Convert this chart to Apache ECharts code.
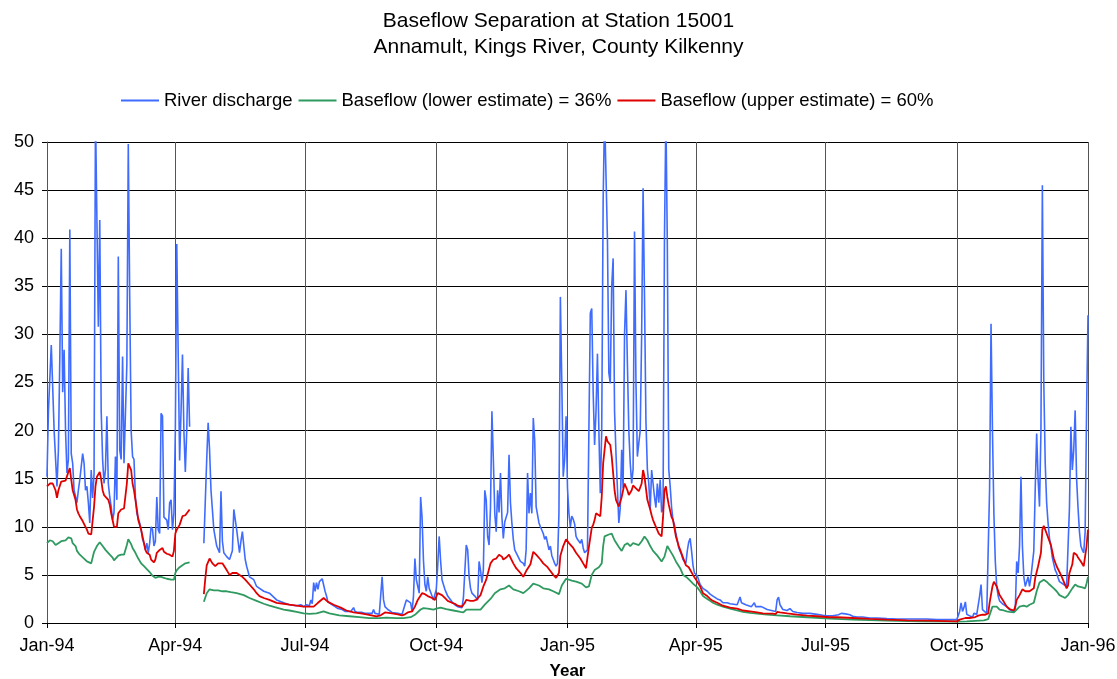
<!DOCTYPE html>
<html><head><meta charset="utf-8">
<script src="https://cdn.jsdelivr.net/npm/echarts@6/dist/echarts.min.js"></script>
<style>html,body{margin:0;padding:0;background:#fff}#c{width:1117px;height:679px}</style>
</head><body><div id="c"></div>
<script>
// Tick marks: day numbers (since 1 Jan 1994) of the first day of each quarter, and their labels
const tickDays = [0, 90, 181, 273, 365, 455, 546, 638, 730];
const tickLabels = ['Jan-94','Apr-94','Jul-94','Oct-94','Jan-95','Apr-95','Jul-95','Oct-95','Jan-96'];
const seriesNames = ['River discharge','Baseflow (lower estimate) = 36%','Baseflow (upper estimate) = 60%'];

// River discharge: day number since 1 Jan 1994, value (null = missing record)
const qDay = [0,1,3,4,5,7,8,9,10,11,12,13,14,15,16,17,18,19,20,21,22,23,25,26,27,28,29,30,31,32,33,34,35,36,37,38,39,40,41,42,43,44,45,46,47,48,49,50,51,52,53,54,55,56,57,58,59,60,61,62,63,65,66,67,68,69,70,71,72,73,74,75,76,77,78,79,80,81,82,83,84,85,86,87,88,89,90,91,92,93,94,95,96,97,98,99,100,
105,
110,112,113,114,115,117,119,121,122,123,124,126,128,130,131,133,135,136,137,139,140,142,145,147,152,156,161,166,170,175,178,180,182,184,185,186,187,188,189,190,191,193,194,195,196,197,200,202,204,207,209,213,215,216,218,221,223,228,229,230,233,235,236,237,239,242,246,249,250,252,253,255,256,257,258,259,260,261,262,263,264,265,266,267,268,270,271,272,273,274,275,276,277,279,281,284,286,288,291,292,293,294,295,296,297,298,300,302,303,304,305,306,307,308,309,310,311,312,313,314,315,316,317,318,319,320,321,323,324,325,326,327,328,330,332,334,335,336,337,338,339,340,341,342,343,345,346,347,348,349,350,352,353,354,355,356,357,358,359,360,361,362,363,364,365,366,367,368,369,370,371,372,373,374,375,376,377,378,379,380,381,382,383,384,385,386,387,388,389,390,391,392,393,394,395,396,397,398,399,400,401,402,403,404,405,406,407,408,409,410,411,412,413,414,415,416,417,418,419,420,421,422,423,424,425,426,427,428,429,430,431,432,433,434,435,436,437,438,439,440,441,442,443,444,445,446,447,448,449,450,451,452,453,454,456,458,460,463,465,467,470,472,474,477,479,484,485,486,487,490,492,494,496,497,499,501,502,505,508,511,512,513,514,516,519,521,523,526,530,535,540,544,547,551,555,557,560,561,563,565,568,572,577,582,589,596,610,617,624,631,638,639,640,641,642,643,644,645,646,649,650,651,652,653,654,655,656,657,659,660,661,662,663,664,665,666,667,668,670,673,675,678,679,680,681,682,683,684,685,686,687,688,689,690,691,692,693,694,695,696,697,698,699,700,701,702,703,704,705,707,708,709,710,713,715,716,717,718,719,720,721,722,723,724,725,726,727,728,729,730];
const qVal = [15.2,22,28.9,24.5,20,14.2,18,27.7,38.9,24,28.4,20,15.6,17,40.9,17.6,16.6,13.8,14,12.5,13.8,14.9,17.6,16.6,13.8,14.2,12.5,10.4,15.9,13,15.5,53,53,30.8,41.9,22,17,14.5,16,21.5,14.5,13.1,12.1,10.7,11.5,17.3,12.8,38.1,18,17,27.7,16.6,16.6,26.9,49.8,33.9,20,17.3,17,13.1,11.4,10.4,9.7,8.7,8.3,7.6,8.3,7.3,8.3,10,9.7,8,8.5,13.1,9.7,9.3,21.8,21.5,11,11,10.7,9.7,12.5,12.8,9.7,11.4,20,39.4,28,16.9,22,27.9,20,15.7,20,26.5,20.4,
null,
8.3,17,20.8,18,13.8,9.7,8,7.3,13.7,8.5,7.3,6.9,6.6,7.5,11.8,9.7,7.3,8.5,9.5,6.6,5.9,4.8,4.5,3.8,3.3,3.1,2.4,2.1,1.9,1.8,1.9,1.7,1.9,1.8,2.4,2.0,4.2,3.3,4.2,3.5,4.3,4.6,4.8,3.3,2.8,2.2,1.9,1.7,1.5,1.4,1.2,1.2,1.6,1.2,1.1,1.1,1.0,1.0,1.4,1.0,0.9,4.8,2.4,1.7,1.4,1.1,1.0,0.9,1.4,2.4,2.6,2.1,1.2,2.8,6.7,4.5,3.8,3.1,13.1,11,6.5,4.0,3.3,4.8,3.6,2.8,2.4,2.6,3.5,6.0,9.0,6.5,4.5,3.5,2.8,2.2,1.9,1.7,1.6,2.6,2.8,8.1,7.6,4.8,3.6,3.1,2.8,2.4,6.4,5.5,4.2,5.5,13.8,12.8,9.0,8.1,12,22,17,11.4,9.5,13.8,11.5,15.6,11,8.8,10.5,11.5,17.5,12.5,10.4,8.7,7.6,7.0,6.4,6.2,5.9,7.6,15.6,11.4,13.5,11.4,21.3,19,12.1,10.4,10.0,10.2,9.3,8.7,9.0,7.6,8.0,7.0,6.6,6.2,5.9,6.2,11.4,33.9,25,15.2,17,21.5,14,11.4,10,11.1,10.8,10.3,9,8.7,8.6,8.3,8.7,7.8,7.3,7.3,7.6,20,32.2,32.7,24,18.5,22,28,20,13.5,20,44,53,53,40,26,24.9,35,37.9,22,17.6,14,10.4,12,18,14,30,34.6,27,20,16.6,14.5,16,40.7,25,17.3,18.7,20,30,45.2,33.9,21,16,14.5,11.8,15.9,14.5,13.1,12,14.5,12.5,14.9,11.5,12,40,53,39.4,16,14.2,12,10.7,10.2,9.3,8.6,7.8,7.6,7.1,6.6,6.4,6.2,7.5,8.4,8.8,7.5,6.0,5.2,4.9,4.0,3.6,3.3,3.0,2.8,2.5,2.4,2.1,2.1,2.0,1.9,2.1,2.7,2.1,1.9,1.8,1.7,2.1,1.7,1.7,1.7,1.5,1.4,1.3,1.2,2.4,2.7,1.9,1.4,1.3,1.5,1.2,1.1,1.0,1.0,0.9,0.8,0.75,0.76,0.85,1.0,0.95,1.1,0.85,0.7,0.62,0.62,0.52,0.52,0.45,0.42,0.42,0.42,0.35,0.35,0.35,0.4,1.2,2.1,1.2,1.6,2.2,0.9,0.7,0.6,1.0,1.2,0.9,1.0,2.8,4.0,1.4,1.2,1.0,1.2,14,31.1,20,11.4,6.4,3.8,2.8,2.3,2.0,1.7,1.4,1.1,1.4,6.4,5.2,8,15.2,8,4.8,3.8,3.6,4.8,3.8,4.8,5.0,7.5,14,19.7,15,12.1,20,45.5,25,16.6,12.5,10.4,8.8,8,6.8,5.5,5.2,4.7,4.3,4.0,3.8,4.0,12,20.4,15.9,18,22.1,15,12,9.5,8,7.6,7.3,9.5,22,32];

// Baseflow (lower estimate = 36%)
const lowDay = [0,2,4,6,7,8,10,11,13,15,16,17,18,20,21,22,23,24,26,28,29,31,32,33,35,37,38,39,41,42,44,46,47,48,50,52,54,55,56,57,59,60,62,64,66,68,70,72,74,75,76,78,80,82,84,87,89,90,91,93,95,97,100,
105,
110,112,114,117,120,123,126,129,133,138,142,147,152,156,161,166,170,175,180,184,189,194,198,205,212,219,226,233,238,245,250,255,258,262,264,267,271,273,276,280,285,290,292,294,299,304,307,311,314,318,321,324,327,331,334,338,341,345,348,352,355,359,361,364,368,371,375,378,380,382,384,387,389,390,391,394,396,398,401,403,405,407,409,411,412,415,417,419,421,423,425,428,431,433,435,437,439,441,444,446,449,451,453,456,458,460,463,465,467,470,474,479,484,488,493,498,505,512,521,533,549,565,589,612,638,645,657,660,663,664,666,668,671,673,675,678,680,682,685,687,689,692,694,696,699,701,703,706,708,710,714,716,719,721,723,726,728,729,730];
const lowVal = [8.3,8.6,8.5,8.1,8.0,8.3,8.5,8.7,8.6,8.9,9.1,8.8,8.3,8.0,7.5,7.3,7.1,6.9,6.7,6.4,6.2,6.2,6.4,7.4,8.0,8.4,8.2,8.0,7.6,7.5,7.1,6.8,6.5,6.6,7.0,7.1,7.1,7.2,8.1,8.7,8.2,7.8,7.3,6.7,6.2,5.9,5.6,5.3,4.9,4.7,4.7,4.8,4.8,4.7,4.6,4.5,4.5,5.2,5.5,5.8,6.0,6.2,6.3,
null,
2.2,3.1,3.5,3.4,3.4,3.3,3.3,3.2,3.1,2.9,2.6,2.3,2.0,1.8,1.6,1.4,1.3,1.15,1.0,0.95,1.0,1.2,1.0,0.8,0.7,0.6,0.5,0.5,0.55,0.5,0.5,0.6,0.85,1.4,1.55,1.5,1.4,1.5,1.6,1.45,1.3,1.15,1.1,1.4,1.4,1.4,1.9,2.5,3.1,3.5,3.6,3.9,3.5,3.3,3.1,3.6,4.1,3.9,3.6,3.5,3.3,3.0,3.9,4.6,4.4,4.3,4.1,3.7,3.8,5.0,5.5,5.8,6.2,8.0,9.0,9.2,9.3,8.6,7.9,7.5,8.1,8.3,8.0,8.3,8.3,8.1,8.5,9.0,8.6,8.0,7.5,7.0,6.4,6.9,8.0,7.5,7.0,6.4,5.7,5.0,4.7,4.4,4.1,3.7,3.3,2.8,2.5,2.3,2.1,1.9,1.7,1.5,1.3,1.15,1.05,0.98,0.87,0.8,0.7,0.6,0.45,0.35,0.25,0.18,0.14,0.17,0.28,0.4,1.7,1.9,1.7,1.4,1.3,1.2,1.15,1.1,1.4,1.7,1.8,1.7,1.9,2.1,3.3,4.2,4.5,4.3,4.0,3.6,3.3,2.9,2.6,2.9,3.6,4.0,3.8,3.7,3.6,4.1,4.8];

// Baseflow (upper estimate = 60%)
const upDay = [0,2,4,6,7,8,10,11,13,14,15,16,17,18,20,21,22,23,24,25,27,28,29,31,32,33,34,35,37,38,39,40,41,43,44,45,46,47,48,49,50,52,54,55,56,57,59,60,61,62,63,64,66,67,68,69,70,72,73,74,75,76,77,79,80,81,82,84,86,88,89,90,91,93,95,97,98,100,
105,
110,111,112,114,116,118,120,121,123,126,128,130,133,135,137,139,140,142,145,147,149,152,156,161,166,170,175,180,182,187,190,194,197,201,206,210,215,220,224,231,234,235,237,242,246,249,251,253,256,258,260,263,265,267,270,272,274,277,279,281,284,286,288,291,293,294,297,299,301,304,306,308,311,313,315,317,319,320,322,324,325,327,329,332,334,336,339,341,343,346,348,351,353,355,357,359,360,362,364,366,369,371,374,376,378,379,380,382,383,384,385,386,388,389,390,391,392,393,395,396,397,398,399,401,402,403,404,405,406,407,408,409,410,411,412,413,414,415,417,418,419,420,421,423,424,425,427,429,431,432,433,434,435,436,438,439,441,443,444,446,448,450,451,453,456,458,460,463,465,467,470,474,479,484,488,493,498,502,509,511,512,514,519,526,533,540,549,554,565,577,589,603,617,631,638,640,644,647,651,653,656,658,660,661,663,664,665,666,668,671,673,675,678,679,680,681,682,684,685,686,687,689,692,693,695,697,698,699,701,704,706,708,711,713,715,716,717,719,720,722,723,725,727,728,729,730];
const upVal = [14.2,14.5,14.5,13.8,13.0,13.8,14.7,14.9,14.8,14.9,15.7,16.1,14.9,13.8,12.8,11.8,11.4,11.1,11.0,10.6,10.0,9.7,9.3,9.2,9.3,12.1,14.2,15.2,15.7,14.9,13.8,13.3,13.1,12.8,12.3,11.4,10.7,10.0,9.9,10.0,11.4,11.8,11.9,12.1,14.5,16.6,15.9,14.5,13.8,12.8,11.8,10.7,9.7,9.0,8.3,7.6,7.3,7.1,6.6,6.4,6.3,6.6,7.3,7.6,7.5,7.8,7.4,7.2,7.1,6.9,7.5,9.3,9.7,10.2,11.1,11.2,11.4,11.8,
null,
3.0,4.6,6.0,6.7,6.2,5.9,6.2,6.1,6.2,5.5,5.0,5.2,5.2,5.0,4.8,4.5,4.3,4.0,3.5,3.1,2.8,2.6,2.4,2.1,2.0,1.9,1.8,1.7,1.7,1.7,2.1,2.6,2.2,1.9,1.6,1.3,1.1,1.0,0.9,0.7,0.8,1.0,1.1,1.0,0.9,0.8,0.9,1.1,1.2,1.7,2.4,3.1,3.0,2.8,2.6,2.4,3.1,2.9,2.6,2.3,2.1,2.0,1.8,1.7,2.1,2.4,2.3,2.3,2.4,2.9,3.8,4.5,6.2,6.6,6.7,7.1,6.9,6.6,6.8,7.1,6.8,6.2,5.7,5.2,4.8,5.4,6.1,7.4,7.1,6.6,6.2,5.8,5.4,5.0,4.7,5.2,7.0,8.0,8.7,8.3,7.8,7.3,6.7,6.2,5.7,5.8,7.9,9.9,10.2,10.7,11.4,11.2,11.1,13.1,16.6,18.0,19.4,18.9,18.5,17.3,15.6,13.8,12.8,12.1,12.3,13.1,13.8,14.5,14.3,13.8,13.3,13.1,13.8,14.3,14.5,14.0,13.8,13.7,14.5,15.9,15.2,14.0,12.8,11.8,11.2,10.7,10.0,9.3,9.0,11.0,13.8,14.2,13.1,12.3,11.0,10.7,9.0,8.0,7.6,6.8,6.0,5.8,5.6,5.0,4.3,3.8,3.1,2.8,2.5,2.3,2.1,1.8,1.6,1.5,1.3,1.2,1.1,1.0,0.97,0.93,1.15,1.1,1.0,0.87,0.76,0.7,0.6,0.6,0.52,0.42,0.35,0.28,0.24,0.2,0.17,0.35,0.52,0.52,0.62,0.76,0.86,0.86,1.0,2.1,3.8,4.3,4.2,3.8,2.9,2.2,1.7,1.45,1.3,1.7,2.4,2.4,2.9,3.5,3.6,3.3,3.1,3.3,3.6,4.7,5.9,7.3,9.7,10.1,9.3,8.1,6.7,5.9,5.0,4.3,3.6,3.9,5.2,6.1,7.3,7.1,6.8,6.4,5.9,6.1,8.0,9.7];

const toPairs = (days, vals) => days.map((d, i) => [d, vals[i]]);
const FONT = 'Liberation Sans, Arial, sans-serif';

const chart = echarts.init(document.getElementById('c'), null, {renderer: 'canvas'});
chart.setOption({
  animation: false,
  backgroundColor: '#fff',
  title: {
    text: 'Baseflow Separation at Station 15001\nAnnamult, Kings River, County Kilkenny',
    left: 'center', top: 3,
    textStyle: {fontFamily: FONT, fontSize: 21, fontWeight: 'normal', color: '#000', lineHeight: 26}
  },
  legend: {
    left: 116, top: 86, itemWidth: 38, itemHeight: 2, itemGap: 6, icon: 'rect',
    textStyle: {fontFamily: FONT, fontSize: 18.5, color: '#000'},
    data: seriesNames
  },
  grid: {left: 47, right: 29, top: 142, bottom: 56, outerBoundsMode: 'none', containLabel: false},
  xAxis: {
    type: 'value', min: tickDays[0], max: tickDays[tickDays.length - 1],
    name: 'Year', nameLocation: 'middle', nameGap: 40,
    nameTextStyle: {fontFamily: FONT, fontSize: 17, fontWeight: 'bold', color: '#000'},
    axisLine: {lineStyle: {color: '#000', width: 1}},
    axisTick: {show: true, customValues: tickDays, length: 5, lineStyle: {color: '#000'}},
    axisLabel: {
      customValues: tickDays, fontFamily: FONT, fontSize: 18, color: '#000', margin: 14,
      formatter: v => { const i = tickDays.indexOf(Math.round(v)); return i >= 0 ? tickLabels[i] : ''; }
    },
    splitLine: {show: true, lineStyle: {color: '#555', width: 1}}
  },
  yAxis: {
    type: 'value', min: 0, max: 50, interval: 5,
    axisLine: {show: true, lineStyle: {color: '#555', width: 1}},
    axisTick: {show: true, length: 5, lineStyle: {color: '#000'}},
    axisLabel: {fontFamily: FONT, fontSize: 18, color: '#000', margin: 13},
    splitLine: {show: true, lineStyle: {color: '#000', width: 1}}
  },
  series: [
    {name: seriesNames[0], type: 'line', data: toPairs(qDay, qVal), symbol: 'none', connectNulls: false,
     lineStyle: {color: '#3f6cff', width: 1.6}, itemStyle: {color: '#3f6cff'}},
    {name: seriesNames[1], type: 'line', data: toPairs(lowDay, lowVal), symbol: 'none', connectNulls: false,
     lineStyle: {color: '#2f9a60', width: 1.8}, itemStyle: {color: '#2f9a60'}},
    {name: seriesNames[2], type: 'line', data: toPairs(upDay, upVal), symbol: 'none', connectNulls: false,
     lineStyle: {color: '#e00000', width: 1.8}, itemStyle: {color: '#e00000'}}
  ]
});
</script></body></html>
